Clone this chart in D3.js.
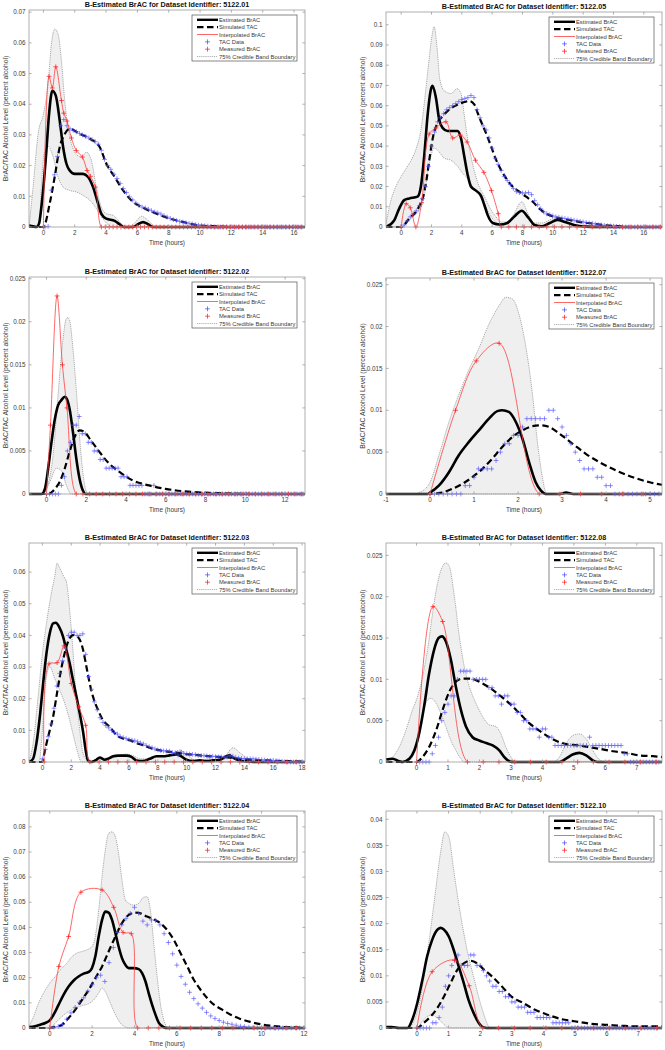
<!DOCTYPE html>
<html><head><meta charset="utf-8">
<script src="https://cdn.jsdelivr.net/npm/d3@7"></script>
<style>
body{margin:0;background:#fff;}
svg{display:block;font-family:"Liberation Sans",Arial,Helvetica,sans-serif;}
</style></head><body>
<svg id="chart" width="665" height="1050"></svg>
<script>
// ---------------- DATA ----------------
// 5122.01
const est1=[[-0.92,0.0005],[-0.66,0.0002],[-0.45,0],[-0.28,0.0011],[-0.13,0.0065],[0,0.013],[0.19,0.0249],[0.36,0.0368],[0.57,0.0444],[0.79,0.0428],[1.04,0.0347],[1.26,0.026],[1.47,0.0206],[1.68,0.0184],[2.0,0.0173],[2.53,0.0173],[2.85,0.0163],[3.17,0.013],[3.49,0.0076],[3.7,0.0043],[4.02,0.0027],[4.55,0.002],[4.87,0.0009],[5.13,0],[5.72,0],[6.04,0.0009],[6.36,0.0016],[6.68,0.0009],[7.0,0],[16.7,0]];
const sim1=[[-0.92,0],[0,0],[0.4,0.0076],[0.72,0.0163],[1.04,0.026],[1.36,0.0303],[1.68,0.032],[2.34,0.0303],[2.98,0.0287],[3.6,0.026],[4.02,0.0206],[4.55,0.0163],[5.09,0.0119],[5.74,0.0081],[6.36,0.0063],[7.23,0.0043],[8.08,0.0027],[8.94,0.0016],[10.0,0.0005],[11.0,0.0002],[12.0,0],[16.7,0]];
const up1=[[-0.92,0],[-0.66,0.013],[-0.34,0.0303],[0,0.0368],[0.3,0.0466],[0.51,0.0596],[0.72,0.0645],[0.94,0.0628],[1.15,0.0542],[1.36,0.0412],[1.57,0.0325],[1.79,0.0271],[2.11,0.0236],[2.43,0.0228],[2.74,0.0244],[3.06,0.0217],[3.38,0.013],[3.7,0.0065],[4.02,0.0043],[4.45,0.0038],[4.77,0.0022],[5.09,0.0005],[5.4,0],[5.83,0.0013],[6.26,0.0035],[6.68,0.0022],[7.11,0.0002],[7.53,0],[16.7,0]];
const lo1=[[-0.92,0],[-0.28,0],[-0.13,0.013],[0.04,0.0238],[0.3,0.0263],[0.62,0.0228],[0.94,0.0163],[1.26,0.013],[1.68,0.0119],[2.11,0.0114],[2.53,0.0103],[2.96,0.0087],[3.38,0.006],[3.7,0.0033],[4.02,0.0013],[4.45,0],[16.7,0]];
const tac1Start=0.1, tac1Step=0.2;
const tac1=[0,0.0002,0.012,0.017,0.023,0.033,0.035,0.033,0.032,0.0315,0.031,0.0305,0.030,0.0295,0.029,0.0285,0.0278,0.027,0.025,0.022,0.020,0.0188,0.0172,0.0158,0.0142,0.0125,0.0112,0.0098,0.0088,0.0078,0.007,0.0065,0.0062,0.0058,0.0053,0.0049,0.0046,0.0042,0.0037,0.0032,0.0028,0.0024,0.0021,0.0018,0.0016,0.0014,0.0012,0.001,0.0008,0.0006,0.0005,0.0004,0.0003,0.0002,0,0,0,0,0,0,0,0,0,0,0,0,0,0,0,0,0,0,0,0,0,0,0,0,0,0,0,0,0];
const brac1=[[0,0],[0.36,0.0491],[0.57,0.0453],[0.79,0.0522],[1.15,0.0412],[1.3,0.0371],[1.51,0.0345],[1.79,0.029],[2.1,0.0249],[2.49,0.0228],[2.79,0.0184],[3.0,0.0165],[3.32,0.013],[3.7,0]];
const bracZero1=[3.95,4.2,4.45,4.7,4.95,5.2,5.45,5.7,5.95,6.2,6.45,6.7,6.95,7.2,7.45,7.7,7.95,8.2,8.45,8.7,8.95,9.2,9.45,9.7,9.95,10.2,10.45,10.7,10.95,11.2,11.45,11.7,11.95,12.2,12.45,12.7,12.95,13.2,13.45,13.7,13.95,14.2,14.45,14.7,14.95,15.2,15.45,15.7,15.95,16.2,16.45];
const xTicks1=[0,2,4,6,8,10,12,14,16];
const yTicks1=[0,0.01,0.02,0.03,0.04,0.05,0.06,0.07];

// 5122.05
const est2=[[-1.0,0],[-0.46,0.0033],[-0.13,0.0091],[0.2,0.0133],[0.53,0.0141],[1.08,0.015],[1.3,0.02],[1.52,0.035],[1.74,0.055],[1.96,0.068],[2.07,0.0698],[2.29,0.064],[2.51,0.053],[2.73,0.049],[3.06,0.0475],[3.72,0.0475],[3.94,0.044],[4.16,0.035],[4.38,0.026],[4.6,0.02],[4.93,0.018],[5.26,0.0155],[5.48,0.011],[5.7,0.006],[6.04,0.002],[6.5,0.0012],[7.0,0.002],[7.5,0.0055],[7.95,0.008],[8.4,0.0045],[8.8,0.001],[9.3,0.0003],[9.8,0.002],[10.3,0.0035],[10.8,0.0025],[11.4,0.001],[12.2,0.0002],[13,0],[17.2,0]];
const sim2=[[-1.0,0],[0,0],[0.53,0.0042],[0.97,0.0075],[1.23,0.0108],[1.45,0.015],[1.67,0.0233],[1.89,0.0349],[2.11,0.0449],[2.4,0.0515],[2.73,0.0548],[3.17,0.0581],[3.61,0.0601],[4.05,0.0615],[4.49,0.0623],[4.82,0.0606],[5.04,0.0565],[5.26,0.0523],[5.59,0.0465],[5.93,0.0399],[6.26,0.0332],[6.59,0.0282],[6.92,0.0241],[7.36,0.0199],[7.8,0.0174],[8.24,0.015],[8.68,0.0125],[9.12,0.0091],[9.56,0.0066],[10.1,0.005],[10.66,0.004],[11.2,0.0033],[11.76,0.0025],[12.6,0.0017],[13.5,0.0008],[14.4,0.0003],[15.3,0],[17.2,0]];
const up2=[[-1.0,0.0017],[-0.68,0.013],[-0.35,0.02],[0,0.025],[0.33,0.029],[0.66,0.033],[1.0,0.039],[1.3,0.048],[1.55,0.063],[1.8,0.08],[2.0,0.093],[2.18,0.099],[2.35,0.09],[2.55,0.073],[2.85,0.0673],[3.3,0.066],[3.68,0.0684],[3.95,0.066],[4.15,0.056],[4.35,0.045],[4.6,0.035],[4.85,0.027],[5.15,0.02],[5.5,0.015],[5.85,0.0095],[6.25,0.005],[6.6,0.0025],[6.95,0.0025],[7.4,0.006],[7.95,0.0125],[8.4,0.006],[8.8,0.002],[9.3,0.002],[9.8,0.0035],[10.2,0.0045],[10.7,0.003],[11.2,0.0012],[11.8,0.0003],[12.3,0],[17.2,0]];
const lo2=[[-1.0,0],[0,0],[0.75,0.005],[1.19,0.0083],[1.52,0.015],[1.74,0.0266],[1.96,0.035],[2.18,0.039],[2.47,0.0374],[2.84,0.034],[3.28,0.033],[3.72,0.03],[4.05,0.0266],[4.38,0.024],[4.71,0.02],[5.04,0.017],[5.37,0.013],[5.7,0.008],[6.04,0.004],[6.37,0.0015],[6.7,0],[17.2,0]];
const tac2Start=0, tac2Step=0.2;
const tac2=[0,0.001,0.003,0.005,0.0065,0.008,0.0105,0.014,0.02,0.03,0.04,0.047,0.052,0.054,0.056,0.058,0.059,0.06,0.061,0.062,0.063,0.0635,0.064,0.065,0.064,0.058,0.054,0.05,0.048,0.044,0.039,0.034,0.031,0.028,0.025,0.023,0.021,0.019,0.0175,0.017,0.0168,0.0168,0.017,0.016,0.013,0.011,0.009,0.0075,0.0065,0.006,0.0055,0.005,0.0048,0.0045,0.0042,0.004,0.0037,0.0033,0.003,0.0028,0.0025,0.0022,0.002,0.0018,0.0015,0.0012,0.001,0.0008,0.0006,0.0005,0.0004,0.0003,0.0002,0,0,0,0,0,0,0,0,0,0,0,0,0];
const brac2=[[0,0],[0.33,0.0115],[0.6,0.0095],[0.97,0],[1.35,0.012],[1.85,0.046],[2.3,0.049],[2.95,0.052],[3.4,0.044],[3.9,0.0455],[4.35,0.042],[4.9,0.033],[5.45,0.027],[5.95,0.018],[6.4,0.0066],[6.6,0]];
const bracZero2=[7.1,7.6,8.1,8.6,9.1,9.6,10.1,10.6,11.1,11.6,12.1,12.6,13.1,13.6,14.1,14.6,15.1,15.6,16.1,16.6,17.1];
const xTicks2=[0,2,4,6,8,10,12,14,16];
const yTicks2=[0,0.01,0.02,0.03,0.04,0.05,0.06,0.07,0.08,0.09,0.1];

// 5122.02
const est3=[[-0.88,0],[-0.25,0],[-0.08,0.0006],[0.08,0.0029],[0.25,0.006],[0.42,0.0087],[0.58,0.0103],[0.75,0.0109],[0.92,0.0113],[1.05,0.0109],[1.16,0.0099],[1.33,0.0072],[1.5,0.0041],[1.66,0.0018],[1.83,0.0004],[1.96,0],[13,0]];
const sim3=[[-0.88,0],[0.1,0],[0.42,0.0006],[0.66,0.0014],[0.91,0.0029],[1.16,0.0049],[1.41,0.0066],[1.66,0.0074],[1.91,0.0072],[2.24,0.0062],[2.66,0.0049],[3.16,0.0035],[3.65,0.0026],[4.32,0.0016],[5.15,0.001],[5.98,0.0006],[6.98,0.0003],[7.97,0.00015],[9.3,0.00004],[10.5,0],[13,0]];
const up3=[[-0.88,0],[-0.17,0],[0,0.0006],[0.33,0.0045],[0.58,0.0115],[0.83,0.018],[1.0,0.0204],[1.08,0.0205],[1.16,0.0202],[1.33,0.0169],[1.53,0.0111],[1.74,0.0045],[1.96,0.0006],[2.08,0],[13,0]];
const lo3=[[-0.88,0],[-0.17,0],[0.17,0.0014],[0.5,0.003],[0.75,0.0027],[1.0,0.001],[1.25,0],[13,0]];
const tac3Start=0, tac3Step=0.15;
const tac3=[0,0,0,0,0,0.001,0.002,0.005,0.006,0.008,0.008,0.009,0.007,0.007,0.006,0.006,0.005,0.005,0.004,0.004,0.003,0.003,0.003,0.003,0.003,0.002,0.002,0.002,0.001,0.001,0.001,0.001,0.001,0,0,0,0.001,0,0,0,0,0,0,0,0,0,0,0,0,0,0,0,0,0,0,0,0,0,0,0,0,0,0,0,0,0,0,0,0,0,0,0,0,0,0,0,0,0,0,0,0,0,0,0,0,0,0];
const brac3=[[0,0],[0.2,0.008],[0.53,0.023],[0.8,0.015],[1.03,0.01],[1.5,0]];
const bracZero3=[1.83,2.17,2.5,2.83,3.17,3.5,3.83,4.17,4.5,4.83,5.17,5.5,5.83,6.17,6.5,6.83,7.17,7.5,7.83,8.17,8.5,8.83,9.17,9.5,9.83,10.17,10.5,10.83,11.17,11.5,11.83,12.17,12.5,12.83];
const xTicks3=[0,2,4,6,8,10,12];
const yTicks3=[0,0.005,0.01,0.015,0.02,0.025];

// 5122.07
const est4=[[-1,0],[-0.05,0],[0,0.00016],[0.2,0.001],[0.43,0.0026],[0.65,0.0046],[0.88,0.0062],[1.11,0.0076],[1.34,0.009],[1.53,0.0099],[1.64,0.01],[1.79,0.0098],[1.95,0.0086],[2.1,0.0066],[2.25,0.0038],[2.4,0.0014],[2.52,0.0004],[2.63,0],[2.95,0],[3.09,0.00016],[3.25,0],[5.27,0]];
const sim4=[[-1,0],[0,0],[0.27,0.00016],[0.5,0.0006],[0.73,0.0012],[0.96,0.002],[1.19,0.003],[1.41,0.0042],[1.64,0.0056],[1.87,0.0068],[2.1,0.0076],[2.33,0.0081],[2.52,0.0082],[2.71,0.008],[2.94,0.0072],[3.24,0.006],[3.54,0.0048],[3.85,0.0038],[4.23,0.0028],[4.61,0.002],[4.99,0.0014],[5.27,0.0011]];
const up4=[[-1,0],[-0.33,0],[-0.26,0.00016],[-0.11,0.0006],[0,0.0014],[0.2,0.0046],[0.43,0.0086],[0.65,0.0118],[0.88,0.0148],[1.11,0.0174],[1.34,0.0203],[1.57,0.0225],[1.72,0.0235],[1.87,0.0233],[2.02,0.0215],[2.17,0.0178],[2.33,0.0118],[2.44,0.0062],[2.56,0.0018],[2.63,0.0002],[2.71,0],[5.27,0]];
const lo4=[[-1,0],[5.27,0]];
const tac4Start=0, tac4Step=0.1;
const tac4=[0,0,0,0,0,0,0,0,0.001,0.001,0.002,0.003,0.003,0.003,0.003,0.004,0.005,0.006,0.006,0.007,0.007,0.008,0.009,0.009,0.009,0.009,0.009,0.01,0.01,0.009,0.008,0.007,0.006,0.005,0.004,0.003,0.003,0.003,0.002,0.002,0.001,0.001,0,0,0,0,0,0,0,0,0,0,0];
const brac4=[[0,0],[0.58,0.01],[1.05,0.0159],[1.57,0.018],[2.48,0]];
const bracZero4=[2.95,3.42,3.9,4.37,4.84];
const xTicks4=[-1,0,1,2,3,4,5];
const yTicks4=[0,0.005,0.01,0.015,0.02,0.025];

// 5122.03
const est5=[[-0.93,0],[-0.65,0.001],[-0.42,0.0058],[-0.18,0.0143],[0.05,0.0248],[0.28,0.0343],[0.51,0.0407],[0.74,0.0438],[0.92,0.044],[1.15,0.0428],[1.43,0.0396],[1.66,0.0354],[1.89,0.0312],[2.12,0.0259],[2.36,0.0206],[2.59,0.0153],[2.82,0.0095],[3.0,0.0037],[3.16,0.0005],[3.4,0],[3.74,0.0007],[3.97,0.0014],[4.32,0.0007],[4.55,0.001],[4.9,0.0018],[5.24,0.002],[5.82,0.002],[6.17,0.0016],[6.51,0.0005],[6.97,0.0003],[7.44,0.001],[7.9,0.0018],[8.36,0.0018],[8.82,0.0021],[9.28,0.0024],[9.63,0.0018],[9.98,0.0007],[10.44,0.0003],[10.9,0.0005],[11.36,0.0003],[11.82,0.0005],[12.29,0.0007],[12.75,0.0018],[12.98,0.0021],[13.21,0.0014],[13.67,0.0005],[14.13,0.0002],[14.6,0],[18.2,0]];
const sim5=[[-0.93,0],[0,0],[0.05,0.001],[0.28,0.0058],[0.51,0.01],[0.74,0.0143],[0.97,0.0206],[1.2,0.0269],[1.43,0.0322],[1.66,0.0364],[1.89,0.0391],[2.12,0.0401],[2.36,0.0398],[2.59,0.0386],[2.82,0.0354],[3.05,0.0301],[3.28,0.0248],[3.51,0.0206],[3.86,0.0164],[4.2,0.0132],[4.67,0.0111],[5.13,0.0085],[5.59,0.0074],[6.05,0.0069],[6.51,0.006],[6.97,0.0053],[7.44,0.0045],[7.9,0.0039],[8.36,0.0035],[8.82,0.0032],[9.28,0.003],[9.75,0.0026],[10.2,0.0024],[10.9,0.0021],[11.6,0.0018],[12.3,0.0016],[12.98,0.0014],[13.67,0.001],[14.6,0.0007],[15.5,0.0005],[16.7,0.0003],[18.2,0.0001]];
const up5=[[-0.93,0],[-0.65,0.0058],[-0.3,0.0206],[0,0.0343],[0.28,0.0438],[0.62,0.0533],[0.85,0.0586],[1.02,0.0628],[1.2,0.0613],[1.48,0.0586],[1.66,0.057],[1.89,0.048],[2.08,0.0375],[2.31,0.0227],[2.54,0.0121],[2.77,0.0037],[3.0,0.001],[3.3,0.0003],[3.8,0.0008],[4.3,0.0012],[4.8,0.0012],[5.3,0.002],[5.8,0.0025],[6.3,0.002],[6.8,0.001],[7.3,0.001],[7.8,0.0015],[8.4,0.002],[9.0,0.0025],[9.5,0.0038],[10.0,0.0025],[10.5,0.0008],[11.0,0.0005],[11.5,0.001],[12.0,0.0008],[12.6,0.0015],[13.2,0.0045],[13.8,0.0025],[14.3,0.001],[15.0,0.0003],[16.0,0],[18.2,0]];
const lo5=[[-0.93,0],[-0.23,0],[0,0.01],[0.28,0.027],[0.51,0.0301],[0.85,0.0264],[1.2,0.0227],[1.55,0.0185],[1.89,0.0132],[2.17,0.0079],[2.47,0.0026],[2.7,0],[18.2,0]];
const tac5Start=0, tac5Step=0.2;
const tac5=[0.001,0.004,0.008,0.012,0.017,0.024,0.028,0.032,0.036,0.040,0.041,0.041,0.040,0.040,0.0405,0.034,0.027,0.023,0.019,0.0165,0.014,0.0125,0.0115,0.0108,0.010,0.0093,0.0088,0.008,0.0077,0.0074,0.0071,0.0069,0.0067,0.0064,0.006,0.0057,0.0052,0.0048,0.0045,0.0041,0.0038,0.0036,0.0035,0.0035,0.0034,0.003,0.0029,0.0022,0.0032,0.0027,0.0026,0.0025,0.0024,0.0023,0.0021,0.002,0.002,0.0019,0.0018,0.0018,0.0017,0.0016,0.0016,0.0015,0.0016,0.002,0.0018,0.0014,0.0012,0.0011,0.001,0.001,0.001,0.001,0.0009,0.0008,0.0007,0.0006,0.0005,0.0005,0.0005,0.0004,0.0003,0.0002,0.0001,0,0,0,0,0,0];
const brac5=[[0.12,0],[0.46,0.031],[1.02,0.0314],[1.5,0.0367],[2.0,0.0248],[2.52,0.0174],[3.0,0.0116],[3.28,0]];
const bracZero5=[3.93,4.58,5.23,5.88,6.53,7.18,7.83,8.48,9.13,9.78,10.43,11.08,11.73,12.38,13.03,13.68,14.33,14.98,15.63,16.28,16.93,17.58];
const xTicks5=[0,2,4,6,8,10,12,14,16,18];
const yTicks5=[0,0.01,0.02,0.03,0.04,0.05,0.06];

// 5122.08
const est6=[[-0.97,0.0003],[-0.76,0.0004],[-0.55,0.0001],[-0.45,0],[-0.23,0.0004],[-0.07,0.0014],[0.08,0.0034],[0.24,0.0067],[0.4,0.0107],[0.56,0.0136],[0.7,0.015],[0.81,0.0152],[0.93,0.0146],[1.09,0.0124],[1.25,0.0091],[1.41,0.0063],[1.57,0.0043],[1.78,0.003],[1.99,0.0026],[2.21,0.0023],[2.42,0.002],[2.63,0.0014],[2.79,0.0006],[2.95,0.0001],[3.1,0],[4.54,0],[4.75,0.0004],[4.96,0.0009],[5.17,0.0011],[5.39,0.0008],[5.6,0.0002],[5.76,0],[7.8,0]];
const sim6=[[-0.97,0],[0,0],[0.19,0.0006],[0.4,0.0018],[0.62,0.0038],[0.83,0.0063],[1.04,0.0085],[1.25,0.0097],[1.46,0.0101],[1.68,0.0101],[1.89,0.0099],[2.1,0.0095],[2.36,0.0089],[2.63,0.0081],[2.95,0.0071],[3.27,0.0059],[3.58,0.0047],[3.9,0.0038],[4.22,0.003],[4.54,0.0024],[4.86,0.0021],[5.17,0.002],[5.49,0.0018],[5.81,0.0016],[6.24,0.0013],[6.66,0.0011],[7.08,0.0008],[7.51,0.0007],[7.8,0.0006]];
const up6=[[-0.97,0],[-0.76,0.0006],[-0.55,0.0018],[-0.34,0.0038],[-0.13,0.0063],[0.03,0.0079],[0.19,0.0103],[0.35,0.0136],[0.51,0.018],[0.67,0.0217],[0.83,0.0237],[0.93,0.0241],[1.04,0.0237],[1.2,0.0201],[1.36,0.0152],[1.52,0.0115],[1.68,0.0091],[1.89,0.0071],[2.1,0.0055],[2.31,0.0045],[2.52,0.0043],[2.68,0.0034],[2.84,0.0018],[3.0,0.0006],[3.16,0],[4.33,0],[4.54,0.0006],[4.75,0.0022],[4.96,0.0032],[5.17,0.0034],[5.39,0.0028],[5.6,0.0014],[5.81,0.0003],[5.97,0],[7.8,0]];
const lo6=[[-0.97,0],[-0.3,0],[-0.13,0.0006],[0.03,0.0022],[0.19,0.0055],[0.35,0.0075],[0.46,0.0077],[0.62,0.0071],[0.77,0.0059],[0.93,0.0043],[1.09,0.0026],[1.25,0.0014],[1.41,0.0004],[1.52,0],[7.8,0]];
const tac6Start=0, tac6Step=0.1;
const tac6=[0,0,0,0,0,0.001,0.002,0.003,0.005,0.006,0.007,0.008,0.008,0.01,0.011,0.011,0.011,0.011,0.01,0.01,0.01,0.01,0.01,0.009,0.009,0.008,0.008,0.007,0.008,0.008,0.007,0.007,0.006,0.006,0.005,0.005,0.004,0.004,0.004,0.003,0.004,0.004,0.003,0.003,0.002,0.002,0.002,0.002,0.002,0.002,0.002,0.002,0.002,0.002,0.002,0.003,0.002,0.002,0.002,0.002,0.002,0.002,0.002,0.002,0.002,0.002,0.001,0.001,0,0,0,0,0,0,0,0,0,0];
const brac6=[[0,0],[0.52,0.0188],[0.83,0.017],[1.62,0]];
const bracZero6=[2.12,2.62,3.12,3.62,4.12,4.62,5.12,5.62,6.12,6.62,7.12,7.62];
const xTicks6=[0,1,2,3,4,5,6,7];
const yTicks6=[0,0.005,0.01,0.015,0.02,0.025];

// 5122.04
const est7=[[-0.98,0.0004],[-0.69,0.0007],[-0.45,0.0013],[-0.21,0.002],[0,0.003],[0.18,0.0053],[0.42,0.0093],[0.65,0.0132],[0.89,0.0165],[1.13,0.0189],[1.36,0.0205],[1.6,0.0216],[1.84,0.0223],[1.99,0.0238],[2.15,0.0284],[2.31,0.0364],[2.47,0.043],[2.62,0.0463],[2.78,0.0459],[2.94,0.043],[3.1,0.0377],[3.25,0.0324],[3.41,0.0278],[3.57,0.0251],[3.73,0.0238],[3.96,0.0238],[4.2,0.0234],[4.36,0.0218],[4.52,0.0185],[4.67,0.0139],[4.83,0.0093],[4.99,0.0053],[5.15,0.002],[5.38,0.0003],[5.54,0],[12.05,0]];
const sim7=[[-0.98,0],[0,0],[0.26,0.0004],[0.58,0.0013],[0.89,0.004],[1.21,0.0073],[1.52,0.0112],[1.84,0.0152],[2.15,0.0198],[2.47,0.0245],[2.78,0.0304],[3.1,0.0364],[3.41,0.0417],[3.73,0.045],[4.04,0.0459],[4.28,0.0456],[4.59,0.0443],[4.91,0.0432],[5.22,0.0417],[5.54,0.039],[5.86,0.035],[6.17,0.0298],[6.49,0.0245],[6.8,0.0192],[7.12,0.0152],[7.43,0.0119],[7.75,0.0093],[8.14,0.0073],[8.54,0.0053],[9.0,0.0036],[9.48,0.0024],[9.95,0.0015],[10.43,0.0009],[11.06,0.0004],[11.84,0.0001],[12.05,0]];
const up7=[[-0.98,0.0007],[-0.76,0.0046],[-0.53,0.0099],[-0.29,0.0139],[0,0.0179],[0.26,0.0205],[0.5,0.0231],[0.81,0.0258],[1.05,0.0284],[1.28,0.0298],[1.52,0.0304],[1.76,0.0311],[1.99,0.0324],[2.15,0.0364],[2.31,0.0469],[2.47,0.0602],[2.62,0.0707],[2.78,0.0774],[2.94,0.078],[3.1,0.076],[3.25,0.0694],[3.41,0.0588],[3.57,0.0509],[3.73,0.0496],[3.96,0.0489],[4.2,0.0496],[4.43,0.052],[4.59,0.0522],[4.75,0.0469],[4.91,0.0337],[5.07,0.0205],[5.22,0.0099],[5.38,0.0033],[5.54,0.0004],[5.7,0],[12.05,0]];
const lo7=[[-0.98,0],[0,0],[0.26,0.002],[0.58,0.0046],[0.89,0.0066],[1.21,0.0079],[1.52,0.0089],[1.84,0.0097],[2.07,0.0112],[2.31,0.0139],[2.47,0.0159],[2.62,0.0145],[2.86,0.0099],[3.1,0.0053],[3.33,0.002],[3.57,0.0004],[3.73,0],[12.05,0]];
const tac7Start=0, tac7Step=0.2;
const tac7=[0,0.0003,0.0006,0.0014,0.0035,0.006,0.0082,0.0102,0.012,0.0147,0.0172,0.02,0.021,0.0185,0.026,0.032,0.038,0.041,0.0435,0.0456,0.048,0.0456,0.0425,0.041,0.043,0.0427,0.041,0.0375,0.034,0.0295,0.025,0.0205,0.0174,0.0142,0.0117,0.0096,0.0079,0.0062,0.0048,0.0038,0.003,0.0023,0.0018,0.0015,0.0011,0.0007,0.0005,0.0003,0.0002,0.0001,0,0,0,0,0,0,0,0,0,0,0];
const brac7=[[0,0],[0.43,0.0245],[0.89,0.0364],[1.47,0.054],[2.47,0.0549],[3.02,0.048],[3.46,0.038],[3.85,0.0375],[4.15,0]];
const bracZero7=[4.65,5.15,5.65,6.15,6.65,7.15,7.65,8.15,8.65,9.15,9.65,10.15,10.65,11.15,11.65];
const xTicks7=[0,2,4,6,8,10,12];
const yTicks7=[0,0.01,0.02,0.03,0.04,0.05,0.06,0.07,0.08];

// 5122.10
const est8=[[-0.98,0.0002],[-0.8,0.0002],[-0.57,0],[-0.3,0],[-0.15,0.0016],[0.01,0.0048],[0.17,0.0092],[0.32,0.0137],[0.48,0.0169],[0.64,0.0188],[0.74,0.0192],[0.85,0.0189],[1.01,0.0175],[1.16,0.015],[1.32,0.0118],[1.48,0.0086],[1.63,0.0054],[1.79,0.0029],[1.95,0.001],[2.1,0.0001],[2.3,0],[7.75,0]];
const sim8=[[-0.98,0],[0,0],[0.22,0.001],[0.43,0.0022],[0.64,0.0038],[0.85,0.006],[1.06,0.0086],[1.27,0.0111],[1.48,0.0124],[1.69,0.0129],[1.9,0.0124],[2.1,0.0113],[2.37,0.0099],[2.68,0.008],[2.99,0.006],[3.36,0.0048],[3.73,0.0035],[4.15,0.0025],[4.57,0.0017],[4.98,0.0013],[5.51,0.0008],[6.03,0.0006],[6.55,0.0004],[7.08,0.0003],[7.75,0.0003]];
const up8=[[-0.98,0],[-0.25,0],[-0.2,0.0003],[-0.04,0.0022],[0.12,0.006],[0.27,0.0118],[0.43,0.0188],[0.59,0.0264],[0.74,0.0334],[0.88,0.0376],[1.01,0.0366],[1.16,0.0303],[1.32,0.0239],[1.48,0.0182],[1.63,0.0137],[1.79,0.0099],[1.95,0.006],[2.1,0.0029],[2.21,0.001],[2.31,0],[7.75,0]];
const lo8=[[-0.98,0],[0,0],[0.17,0.0013],[0.32,0.0022],[0.48,0.0025],[0.64,0.0019],[0.8,0.001],[0.95,0.0002],[1.06,0],[7.75,0]];
const tac8Start=0, tac8Step=0.1;
const tac8=[0,0,0,0,0,0.001,0.001,0.002,0.004,0.008,0.01,0.012,0.013,0.014,0.012,0.012,0.012,0.014,0.014,0.012,0.012,0.011,0.01,0.009,0.008,0.008,0.007,0.007,0.006,0.006,0.005,0.005,0.004,0.004,0.004,0.003,0.003,0.003,0.002,0.002,0.002,0.002,0.002,0.001,0.001,0.001,0.001,0.001,0.001,0,0,0,0,0,0,0,0,0,0,0,0,0,0,0,0,0,0,0,0,0,0,0,0,0,0,0,0];
const brac8=[[0,0],[0.48,0.0108],[1.19,0.013],[1.65,0.0081],[2.08,0]];
const bracZero8=[2.58,3.08,3.58,4.08,4.58,5.08,5.58,6.08,6.58,7.08,7.58];
const xTicks8=[0,1,2,3,4,5,6,7];
const yTicks8=[0,0.005,0.01,0.015,0.02,0.025,0.03,0.035,0.04];

const legendLabels=["Estimated BrAC","Simulated TAC","Interpolated BrAC","TAC Data","Measured BrAC","75% Credible Band Boundary"];

// ---------------- PANELS (built from the arrays above) ----------------
const panels=[
 {id:"5122.01",est:est1,sim:sim1,up:up1,lo:lo1,tacStart:tac1Start,tacStep:tac1Step,tac:tac1,brac:brac1,bracZero:bracZero1,xDom:[-0.92,16.7],yDom:[0,0.0707],xTicks:xTicks1,yTicks:yTicks1,box:[29,10,305,227]},
 {id:"5122.05",est:est2,sim:sim2,up:up2,lo:lo2,tacStart:tac2Start,tacStep:tac2Step,tac:tac2,brac:brac2,bracZero:bracZero2,xDom:[-1.0,17.2],yDom:[0,0.1063],xTicks:xTicks2,yTicks:yTicks2,box:[386,12,662,227]},
 {id:"5122.02",est:est3,sim:sim3,up:up3,lo:lo3,tacStart:tac3Start,tacStep:tac3Step,tac:tac3,brac:brac3,bracZero:bracZero3,xDom:[-0.88,13.0],yDom:[0,0.0252],xTicks:xTicks3,yTicks:yTicks3,box:[29,277,305,494]},
 {id:"5122.07",est:est4,sim:sim4,up:up4,lo:lo4,tacStart:tac4Start,tacStep:tac4Step,tac:tac4,brac:brac4,bracZero:bracZero4,xDom:[-1.0,5.27],yDom:[0,0.0258],xTicks:xTicks4,yTicks:yTicks4,box:[386,278,662,494]},
 {id:"5122.03",est:est5,sim:sim5,up:up5,lo:lo5,tacStart:tac5Start,tacStep:tac5Step,tac:tac5,brac:brac5,bracZero:bracZero5,xDom:[-0.93,18.2],yDom:[0,0.0692],xTicks:xTicks5,yTicks:yTicks5,box:[29,543,305,762]},
 {id:"5122.08",est:est6,sim:sim6,up:up6,lo:lo6,tacStart:tac6Start,tacStep:tac6Step,tac:tac6,brac:brac6,bracZero:bracZero6,xDom:[-0.97,7.8],yDom:[0,0.0265],xTicks:xTicks6,yTicks:yTicks6,box:[386,543,662,762]},
 {id:"5122.04",est:est7,sim:sim7,up:up7,lo:lo7,tacStart:tac7Start,tacStep:tac7Step,tac:tac7,brac:brac7,bracZero:bracZero7,xDom:[-0.98,12.05],yDom:[0,0.0863],xTicks:xTicks7,yTicks:yTicks7,box:[29,811,305,1028]},
 {id:"5122.10",est:est8,sim:sim8,up:up8,lo:lo8,tacStart:tac8Start,tacStep:tac8Step,tac:tac8,brac:brac8,bracZero:bracZero8,xDom:[-0.98,7.75],yDom:[0,0.0416],xTicks:xTicks8,yTicks:yTicks8,box:[386,811,662,1028]}
];

// ---------------- DRAW ----------------
const svg=d3.select("#chart");
const defs=svg.append("defs");
const TXT="#3a3a3a", AX="#9c9c9c";
const fmtY=v=>v===0?"0":String(+v.toFixed(4));
function plusPath(pts,x,y,s){
  return pts.map(d=>{const px=x(d[0]),py=y(d[1]);return `M${px-s},${py}H${px+s}M${px},${py-s}V${py+s}`;}).join("");
}

panels.forEach((p,k)=>{
  const [x0,y0,x1,y1]=p.box;
  const x=d3.scaleLinear().domain(p.xDom).range([x0,x1]);
  const y=d3.scaleLinear().domain(p.yDom).range([y1,y0]);
  const g=svg.append("g");
  defs.append("clipPath").attr("id","c"+k).append("rect").attr("x",x0).attr("y",y0).attr("width",x1-x0).attr("height",y1-y0+3);
  defs.append("clipPath").attr("id","r"+k).append("rect").attr("x",x0).attr("y",y0).attr("width",x1-x0).attr("height",y1-y0+0.3);
  const plot=g.append("g").attr("clip-path",`url(#c${k})`);
  const mono=d3.line().x(d=>x(d[0])).y(d=>y(d[1])).curve(d3.curveMonotoneX);
  const areaUp=d3.area().x(d=>x(d[0])).y0(y(0)).y1(d=>y(d[1])).curve(d3.curveMonotoneX);

  // credible band
  plot.append("path").attr("d",areaUp(p.up)).attr("fill","#efefef");
  plot.append("path").attr("d",areaUp(p.lo)).attr("fill","#fff");
  [p.up,p.lo].forEach(b=>plot.append("path").attr("d",mono(b)).attr("fill","none")
    .attr("stroke","#8a8a8a").attr("stroke-width",0.7).attr("stroke-dasharray","1.2,0.9"));

  // TAC data
  const tacPts=p.tac.map((v,i)=>[p.tacStart+i*p.tacStep,v]);
  g.append("path").attr("d",plusPath(tacPts,x,y,2.4)).attr("fill","none")
    .attr("stroke","#4f4fff").attr("stroke-width",0.75).attr("stroke-opacity",0.85);

  // estimated BrAC
  plot.append("path").attr("d",mono(p.est)).attr("fill","none").attr("stroke","#000")
    .attr("stroke-width",2.6).attr("stroke-linejoin","round");
  // simulated TAC
  plot.append("path").attr("d",mono(p.sim)).attr("fill","none").attr("stroke","#000")
    .attr("stroke-width",2.2).attr("stroke-dasharray","6.5,3.5");

  // interpolated BrAC (smooth curve through measurements)
  const bracAll=p.brac.concat(p.bracZero.map(t=>[t,0]));
  const interp=d3.line().x(d=>x(d[0])).y(d=>y(d[1])).curve(d3.curveCatmullRom.alpha(0.5));
  g.append("path").attr("clip-path",`url(#r${k})`).attr("d",interp(bracAll)).attr("fill","none")
    .attr("stroke","#ff4040").attr("stroke-width",0.8);
  // measured BrAC
  g.append("path").attr("d",plusPath(bracAll,x,y,2.4)).attr("fill","none")
    .attr("stroke","#ff2020").attr("stroke-width",0.75);

  // axes box + ticks
  g.append("rect").attr("x",x0).attr("y",y0).attr("width",x1-x0).attr("height",y1-y0)
    .attr("fill","none").attr("stroke",AX).attr("stroke-width",0.8);
  const tk=2.6;
  p.xTicks.forEach(t=>{
    const px=x(t);
    g.append("path").attr("d",`M${px},${y1}V${y1-tk}M${px},${y0}V${y0+tk}`).attr("stroke",AX).attr("stroke-width",0.8);
    g.append("text").attr("x",px).attr("y",y1+8.3).attr("text-anchor","middle")
      .attr("font-size",6.3).attr("fill",TXT).text(String(t));
  });
  p.yTicks.forEach(t=>{
    const py=y(t);
    g.append("path").attr("d",`M${x0},${py}H${x0+tk}M${x1},${py}H${x1-tk}`).attr("stroke",AX).attr("stroke-width",0.8);
    g.append("text").attr("x",x0-3.5).attr("y",py+2.2).attr("text-anchor","end")
      .attr("font-size",6.3).attr("fill",TXT).text(fmtY(t));
  });
  // labels
  g.append("text").attr("x",(x0+x1)/2).attr("y",y1+18).attr("text-anchor","middle")
    .attr("font-size",6.4).attr("fill",TXT).text("Time (hours)");
  const ylx=x0-21.5, yly=(y0+y1)/2;
  g.append("text").attr("transform",`translate(${ylx},${yly}) rotate(-90)`).attr("text-anchor","middle")
    .attr("font-size",6.8).attr("fill",TXT).text("BrAC/TAC Alcohol Level (percent alcohol)");
  g.append("text").attr("x",(x0+x1)/2).attr("y",y0-3).attr("text-anchor","middle")
    .attr("font-size",7.2).attr("font-weight","bold").attr("fill","#111")
    .text("B-Estimated BrAC for Dataset Identifier: "+p.id);

  // legend
  const lx=x1-113, ly=y0+5, lw=105, lh=46;
  const lg=g.append("g");
  lg.append("rect").attr("x",lx).attr("y",ly).attr("width",lw).attr("height",lh)
    .attr("fill","#fff").attr("stroke","#555").attr("stroke-width",0.7);
  legendLabels.forEach((lab,i)=>{
    const cy=ly+4.8+i*7.35, sx0=lx+5, sx1=lx+26, mx=(sx0+sx1)/2;
    if(i===0) lg.append("line").attr("x1",sx0).attr("x2",sx1).attr("y1",cy).attr("y2",cy).attr("stroke","#000").attr("stroke-width",2.4);
    if(i===1) lg.append("line").attr("x1",sx0).attr("x2",sx1).attr("y1",cy).attr("y2",cy).attr("stroke","#000").attr("stroke-width",2.2).attr("stroke-dasharray","6.5,3.5");
    if(i===2) lg.append("line").attr("x1",sx0).attr("x2",sx1).attr("y1",cy).attr("y2",cy).attr("stroke","#ff4040").attr("stroke-width",0.8);
    if(i===3) lg.append("path").attr("d",`M${mx-2.4},${cy}H${mx+2.4}M${mx},${cy-2.4}V${cy+2.4}`).attr("stroke","#4f4fff").attr("stroke-width",0.75);
    if(i===4) lg.append("path").attr("d",`M${mx-2.4},${cy}H${mx+2.4}M${mx},${cy-2.4}V${cy+2.4}`).attr("stroke","#ff2020").attr("stroke-width",0.75);
    if(i===5) lg.append("line").attr("x1",sx0).attr("x2",sx1).attr("y1",cy).attr("y2",cy).attr("stroke","#8a8a8a").attr("stroke-width",0.7).attr("stroke-dasharray","1.2,0.9");
    lg.append("text").attr("x",lx+27).attr("y",cy+2.1).attr("font-size",5.8).attr("fill",TXT).text(lab);
  });
});
</script>
</body></html>
